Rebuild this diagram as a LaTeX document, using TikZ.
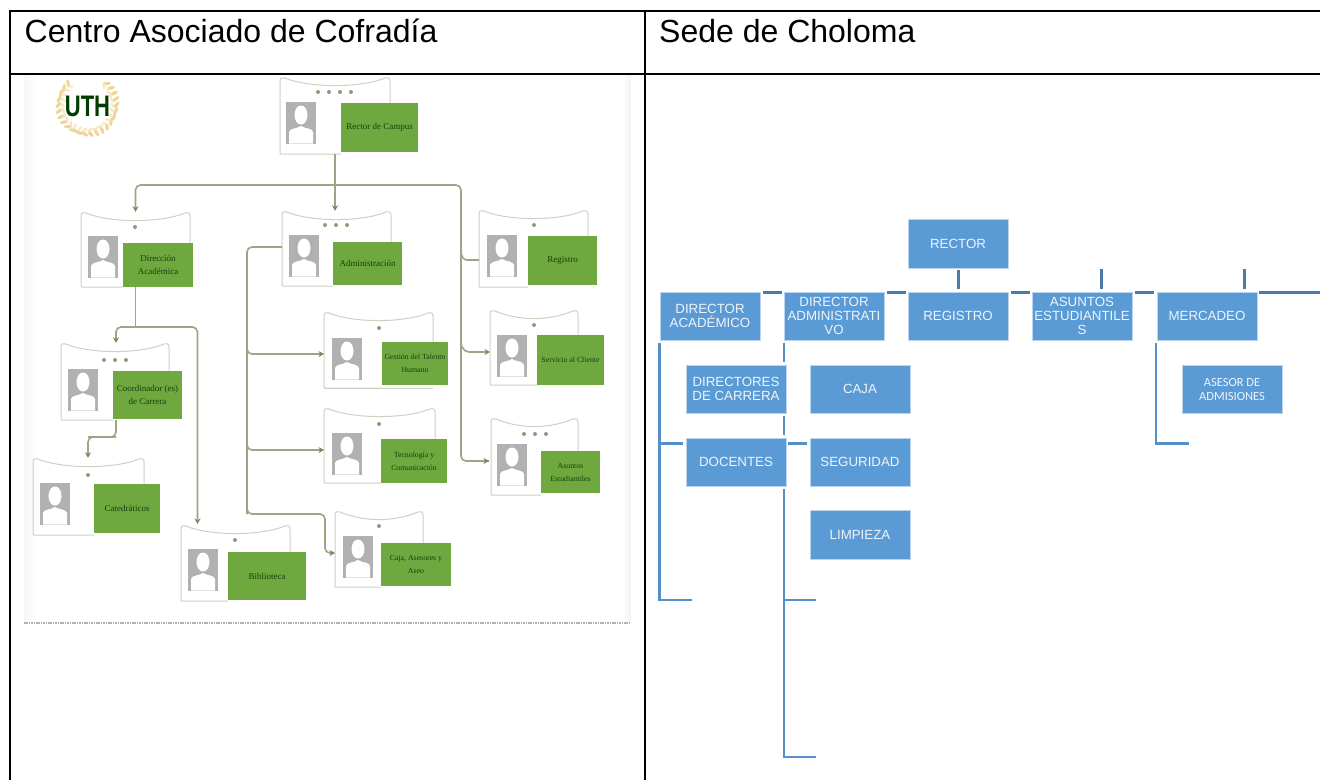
\documentclass[tikz,border=0pt]{standalone}
\usepackage{fontspec}
\setmainfont{Liberation Sans}
\newfontfamily\serifcard{Liberation Serif}
\newfontfamily\carlitofont{Carlito}
\usetikzlibrary{arrows.meta}
\definecolor{boxblue}{HTML}{5B9BD5}
\definecolor{boxedge}{HTML}{BBD5EE}
\definecolor{boxtext}{HTML}{EEF4FB}
\definecolor{stubdark}{HTML}{4A7BA9}
\definecolor{stublight}{HTML}{5590C8}
\definecolor{cardgreen}{HTML}{6FA83F}
\definecolor{cardtext}{HTML}{173F0C}
\definecolor{cardedge}{HTML}{CBD2C2}
\definecolor{connline}{HTML}{A0A384}
\definecolor{tipcolor}{HTML}{7E8560}
\definecolor{portrait}{HTML}{B1B1B3}
\definecolor{dotcolor}{HTML}{8F9A7C}
\definecolor{gold}{HTML}{EFD596}
\definecolor{goldpale}{HTML}{F6E8C4}
\newcommand\cardsmall{\fontsize{7.8}{12.5}\selectfont}
\tikzset{
  orgbox/.style={draw=boxedge,line width=.5pt,fill=boxblue,minimum width=100pt,minimum height=48.5pt,inner sep=0pt,text=boxtext,align=center,font=\fontsize{13.3}{14}\selectfont},
  stubA/.style={draw=stubdark,line width=3pt},
  stubB/.style={draw=stublight,line width=2.6pt},
  cardframe/.style={draw=cardedge,line width=1pt,rounded corners=.8pt},
  cardlabel/.style={fill=cardgreen,inner sep=0pt,text=cardtext,align=center,font=\serifcard\fontsize{9}{13}\selectfont},
  conn/.style={draw=connline,line width=1.6pt,rounded corners=5pt},
  connarrow/.style={conn,-{Stealth[length=5.5pt,width=6pt,color=tipcolor]}},
  grid/.style={draw=black,line width=2pt},
  headline/.style={anchor=base west,inner sep=0pt,font=\fontsize{32}{36}\selectfont}
}
\newcommand\card[9]{\def\cN{#1}\def\cL{#2}\def\cT{#3}\def\cR{#4}\def\cB{#5}\def\gL{#6}\def\gT{#7}\def\gR{#8}\def\gB{#9}\cardrest}
\newcommand\cardrest[6]{%
  \pgfmathsetmacro\cW{\cR-\cL}\pgfmathsetmacro\cH{\cB-\cT}%
  \pgfmathsetmacro\gW{\gR-\gL}\pgfmathsetmacro\gH{\gB-\gT}%
  \node[minimum width=\cW pt,minimum height=\cH pt,inner sep=0pt] (\cN) at ({(\cL+\cR)/2},{(\cT+\cB)/2}) {};
  \draw[cardframe] (\gL,\cB) -- (\cL,\cB) -- ({\cL},{\cT+5})
    .. controls ({\cL},{\cT+1}) and ({\cL+2},{\cT}) .. ({\cL+5},{\cT+1})
    .. controls ({\cL+30},{\cT+11}) and ({\cR-30},{\cT+11}) .. ({\cR-5},{\cT+1})
    .. controls ({\cR-2},{\cT}) and ({\cR},{\cT+1}) .. ({\cR},{\cT+5}) -- (\cR,\gT);
  \fill[portrait] (#1,#2) rectangle ({#1+30},{#2+41.5});
  \fill[white] ({#1+15},{#2+13}) ellipse (6.5pt and 9.5pt);
  \fill[white] ({#1+3},{#2+41.5}) -- ({#1+3},{#2+30}) .. controls ({#1+4},{#2+26}) and ({#1+10},{#2+27}) .. ({#1+15},{#2+24})
     .. controls ({#1+20},{#2+27}) and ({#1+26},{#2+26}) .. ({#1+27},{#2+30}) -- ({#1+27},{#2+41.5}) -- cycle;
  \foreach \i in {1,...,#5}{\pgfmathsetmacro\dx{#3+(\i-(#5+1)/2)*11}\fill[dotcolor] (\dx,#4) circle (2pt);}
  \node[cardlabel,minimum width=\gW pt,minimum height=\gH pt] (\cN-g) at ({(\gL+\gR)/2},{(\gT+\gB)/2}) {#6};
}
\begin{document}
\begin{tikzpicture}[x=1pt,y=-1pt]
\useasboundingbox (0,0) rectangle (1320,780);
\fill[white] (0,0) rectangle (1320,780);
% picture backdrop, left cell
\fill[left color=black!3,right color=white] (24,75) rectangle (38,622);
\fill[left color=white,right color=black!5] (622,75) rectangle (631,622);
\draw[draw=black!30,line width=1.4pt,dash pattern=on 1.6pt off .8pt] (24,623) -- (630,623);
% logo
\foreach \a in {-48,-36,...,228}{
  \fill[gold,rotate around={\a+50:({87.5+29*cos(\a)},{105+29*sin(\a)})}] ({87.5+29*cos(\a)},{105+29*sin(\a)}) ellipse (4.2pt and 1.7pt);
  \fill[goldpale,rotate around={\a-50:({87.5+25*cos(\a)},{105+25*sin(\a)})}] ({87.5+25*cos(\a)},{105+25*sin(\a)}) ellipse (3.2pt and 1.3pt);
}
\node[inner sep=0pt,text=black!60!green!60!black] (uth) at (87.5,106) {\scalebox{1}[1.35]{\fontsize{22}{22}\selectfont\bfseries UTH}};
% cards
\card{rec}{280}{77}{390}{154}{341}{103}{418}{152}{286}{102}{334.5}{92}{4}{Rector de Campus}
\card{dir}{81}{212}{190}{287}{123}{243}{193}{287}{88}{236}{135}{227}{1}{Dirección\\Académica}
\card{adm}{282}{211}{391}{286}{333}{242}{402}{285}{289}{235}{336}{225}{3}{Administración}
\card{reg}{479}{210}{588}{287}{528}{236}{597}{285}{487}{235}{534}{225}{1}{Registro}
\card{ges}{324}{312}{433}{388}{382}{342}{448}{385}{332}{338}{379}{328}{1}{\cardsmall Gestión del Talento\\\cardsmall Humano}
\draw[cardframe] (ges.south west) -- (ges.south east);
\card{ser}{490}{310}{578}{385}{537}{335}{604}{385}{497}{335}{534}{325}{1}{\cardsmall Servicio al Cliente}
\card{tec}{324}{408}{435}{483}{381}{439}{447}{483}{332}{433}{379}{424}{1}{\cardsmall Tecnología y\\\cardsmall Comunicación}
\card{asu}{491}{418}{578}{495}{541}{451}{600}{493}{497}{444}{535}{434}{3}{\cardsmall Asuntos\\\cardsmall Estudiantiles}
\card{caj}{335}{511}{423}{587}{381}{543}{451}{586}{343}{536}{379}{526}{1}{\cardsmall Caja, Asesores y\\\cardsmall Aseo}
\card{coo}{61}{343}{169}{420}{113}{371}{182}{419}{68}{369}{115}{360}{3}{Coordinador (es)\\de Carrera}
\card{cat}{33}{458}{144}{535}{94}{484}{160}{533}{40}{483}{88}{475}{1}{Catedráticos}
\card{bib}{181}{525}{290}{601}{228}{552}{306}{600}{188}{549}{235}{540}{1}{Biblioteca}
% connector junctions
\coordinate (jr) at (335,185);
\coordinate (jright) at (461,185);
\coordinate (inreg) at (479,260);
\coordinate (inser) at (490,352);
\coordinate (inasu) at (489,461);
\coordinate (jd) at (135.5,327);
\coordinate (jleft) at (116,327);
\coordinate (jrightd) at (197.5,327);
\coordinate (inbib) at (197.5,524);
\coordinate (jc) at (116,437);
\coordinate (jc2) at (88,437);
\coordinate (admout) at (282,247);
\coordinate (jadm) at (247,247);
\coordinate (inges) at (324,354);
\coordinate (intec) at (324,450);
\coordinate (jcaj) at (247,514);
\coordinate (jcaj2) at (325,514);
\coordinate (incaj) at (335,553);
% connectors
\draw[conn] (rec.south) -- (jr);
\draw[connarrow] (jr) -| (dir.north);
\draw[connarrow] (jr) -- (jr |- adm.north);
\draw[conn] (jr) -- (jright) -- (jright |- inasu) -- (inasu);
\draw[connarrow,rounded corners=0pt] (inasu) ++(-8,0) -- (inasu);
\draw[conn,rounded corners=3pt] (jright |- 0,254) -- (464,260) -- (inreg);
\draw[connarrow] (jright |- 0,344) -- (464,352) -- (inser);
\draw[conn,line width=1.9pt] (dir.south) -- (jd);
\draw[connarrow] (jd) -- (jleft) -- (jleft |- coo.north);
\draw[connarrow] (jd) -- (jrightd) -- (inbib);
\draw[conn] (coo.south -| jc) -- (jc) -- (jc2);
\draw[connarrow] (jc) -- (jc2) -- (jc2 |- cat.north);
\draw[conn] (admout) -- (jadm) -- (jcaj);
\draw[connarrow] (jadm |- 0,345) -- (247,354) -- (inges);
\draw[connarrow] (jadm |- 0,441) -- (247,450) -- (intec);
\draw[connarrow] (jadm |- 0,505) -- (jcaj) -- (jcaj2) -- (325,553) -- (incaj);
% table grid
\draw[grid] (9,11) -- (1320,11);
\draw[grid] (9,74) -- (1320,74);
\draw[grid] (10,10) -- (10,780);
\draw[grid] (645,10) -- (645,780);
\node[headline] (h1) at (24.5,42) {Centro Asociado de Cofradía};
\node[headline] (h2) at (659,42) {Sede de Choloma};
% right-hand chart
\node[orgbox] (rector) at (958,243.5) {RECTOR};
\node[orgbox] (dac) at (710,316) {DIRECTOR\\ACADÉMICO};
\node[orgbox] (dad) at (834,316) {DIRECTOR\\ADMINISTRATI\\VO};
\node[orgbox] (regi) at (958,316) {REGISTRO};
\node[orgbox] (aes) at (1082,316) {ASUNTOS\\ESTUDIANTILE\\S};
\node[orgbox] (mer) at (1207,316) {MERCADEO};
\node[orgbox] (dca) at (736,389) {DIRECTORES\\DE CARRERA};
\node[orgbox] (caja) at (860,389) {CAJA};
\node[orgbox,font=\carlitofont\fontsize{12.5}{14}\selectfont] (ase) at (1232,389) {ASESOR DE\\ADMISIONES};
\node[orgbox] (doc) at (736,462) {DOCENTES};
\node[orgbox] (seg) at (860,462) {SEGURIDAD};
\node[orgbox] (lim) at (860,534.5) {LIMPIEZA};
% stub ends
\coordinate (v1a) at (1101,269);\coordinate (v1b) at (1101,289);
\coordinate (v2a) at (1244,269);\coordinate (v2b) at (1244,289);
\coordinate (hr) at (1320,292);
\coordinate (la) at (659.5,343);\coordinate (lb) at (659.5,600);\coordinate (lc) at (692,600);
\coordinate (ld) at (659.5,443.5);\coordinate (le) at (683,443.5);
\coordinate (ma) at (784,489);\coordinate (mb) at (784,757);\coordinate (mc) at (816,757);
\coordinate (md) at (784,600);\coordinate (me) at (816,600);
\coordinate (ra) at (1156,343);\coordinate (rb) at (1156,443.5);\coordinate (rc) at (1189,443.5);
% stubs
\draw[stubA] (958,270) -- (958,289);
\draw[stubA] (v1a) -- (v1b);
\draw[stubA] (v2a) -- (v2b);
\draw[stubA] (763,292) -- (782,292);
\draw[stubA] (887,292) -- (906,292);
\draw[stubA] (1011,292) -- (1030,292);
\draw[stubA] (1135,292) -- (1154,292);
\draw[stubA] (1259,292) -- (hr);
\draw[stubB] (la) -- (lb) -- (lc);
\draw[stubB] (ld) -- (le);
\draw[stubB] (784,343) -- (784,362);
\draw[stubB] (784,416) -- (784,435);
\draw[stubB] (788,443.5) -- (807,443.5);
\draw[stubB] (ma) -- (mb) -- (mc);
\draw[stubB] (md) -- (me);
\draw[stubB] (ra) -- (rb) -- (rc);
\end{tikzpicture}
\end{document}
